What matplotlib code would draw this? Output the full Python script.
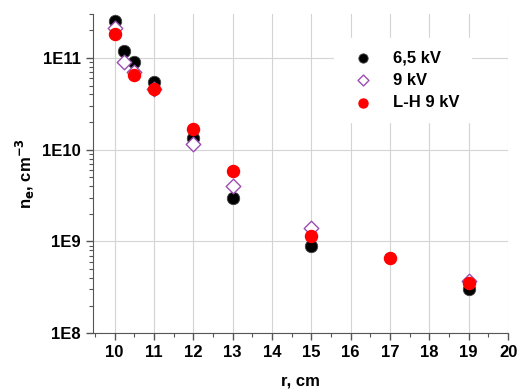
import numpy as np
import matplotlib.pyplot as plt
from matplotlib.ticker import FixedLocator, LogLocator, NullFormatter

plt.rcParams['font.family'] = ['Liberation Sans', 'DejaVu Sans']
plt.rcParams['font.weight'] = 'bold'

# Data
r_65 = [10, 10.25, 10.5, 11, 12, 13, 15, 19]
ne_65 = [2.5e11, 1.2e11, 9.0e10, 5.5e10, 1.35e10, 3.0e9, 9.0e8, 3.0e8]

r_9 = [10, 10.25, 10.5, 11, 12, 13, 15, 19]
ne_9 = [2.1e11, 9.0e10, 7.0e10, 4.6e10, 1.15e10, 4.0e9, 1.4e9, 3.7e8]

r_lh = [10, 10.5, 11, 12, 13, 15, 17, 19]
ne_lh = [1.8e11, 6.5e10, 4.6e10, 1.7e10, 5.8e9, 1.15e9, 6.6e8, 3.5e8]

xticks = list(range(10, 21))
yticks = [1e8, 1e9, 1e10, 1e11]
ylabels = ['1E8', '1E9', '1E10', '1E11']

fig = plt.figure(figsize=(5.19, 3.92), dpi=100)
ax = fig.add_axes([0.179, 0.150, 0.800, 0.814])

ax.set_yscale('log')
ax.set_xlim(9.45, 20)
ax.set_ylim(1e8, 3e11)

ax.grid(True, which='major', color='#d4d4d4', linewidth=0.8)
ax.set_axisbelow(True)

ax.scatter(r_65, ne_65, s=80, color='black', edgecolor='#444444', linewidth=0.6, zorder=3, label='6,5 kV')
ax.scatter(r_9, ne_9, s=55, marker='D', facecolor='white', edgecolor='#9b4fb0', linewidth=1.0, zorder=4, label='9 kV')
ax.scatter(r_lh, ne_lh, s=75, color='#ff0000', edgecolor='#ff0000', zorder=5, label='L-H 9 kV')

ax.xaxis.set_major_locator(FixedLocator(xticks))
ax.xaxis.set_minor_locator(FixedLocator(np.arange(9.5, 20, 0.5)))
ax.set_yticks(yticks)
ax.set_yticklabels(ylabels)
ax.yaxis.set_minor_locator(LogLocator(base=10, subs=np.arange(2, 10)))
ax.yaxis.set_minor_formatter(NullFormatter())

ax.tick_params(axis='both', which='major', direction='out', length=5, width=1, labelsize=12, color='#555555')
ax.tick_params(axis='both', which='minor', direction='out', length=3, width=0.8, color='#555555')
for lbl in ax.get_xticklabels() + ax.get_yticklabels():
    lbl.set_fontweight('bold')

for s in ['top', 'right']:
    ax.spines[s].set_visible(False)
for s in ['left', 'bottom']:
    ax.spines[s].set_color('#555555')

ax.set_xlabel('r, cm', fontsize=12, fontweight='bold', labelpad=10)
ax.set_ylabel(r'n$_\mathbf{e}$, cm$^\mathbf{-3}$', fontsize=12, fontweight='bold', labelpad=4)

ax.legend(loc='upper right', bbox_to_anchor=(0.93, 0.95), frameon=True,
          handletextpad=0.8, borderpad=0.7, labelspacing=0.45, scatterpoints=1, markerscale=0.75,
          prop={'weight': 'bold', 'size': 12}, facecolor='white', edgecolor='white', framealpha=1,
          fancybox=False)

fig.savefig('out.png', dpi=100)
